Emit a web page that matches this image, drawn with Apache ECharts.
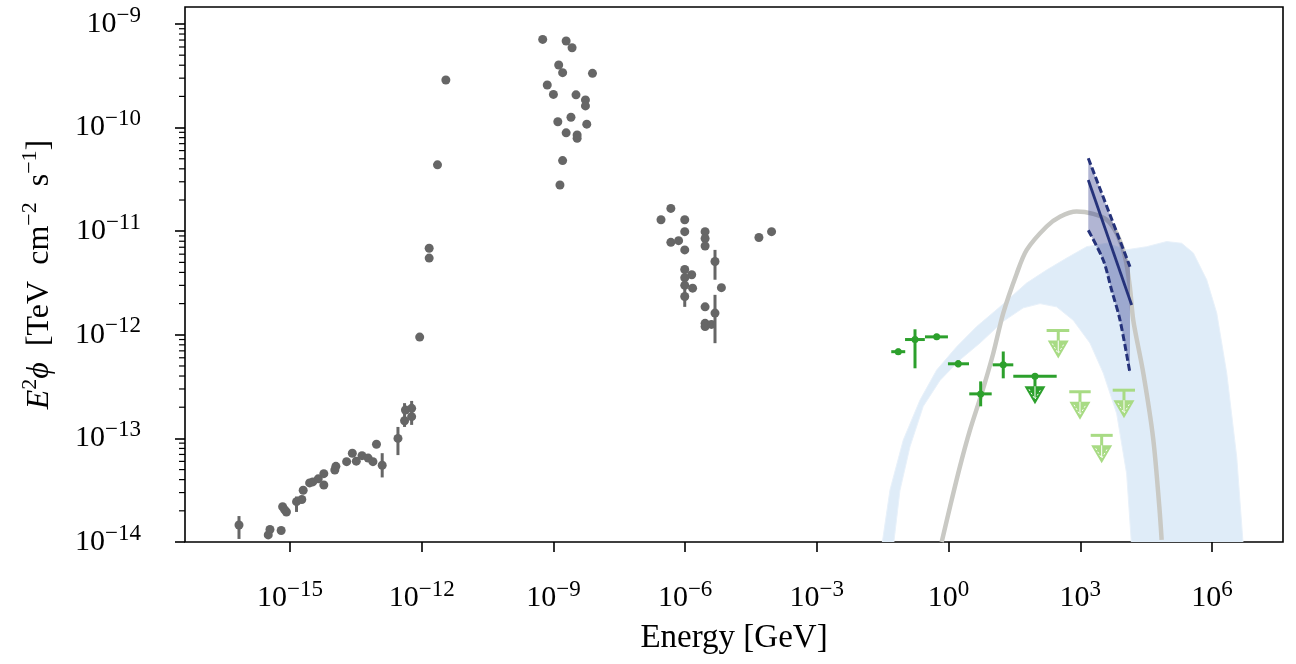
<!DOCTYPE html>
<html><head><meta charset="utf-8">
<script src="https://cdn.jsdelivr.net/npm/echarts@6/dist/echarts.min.js"></script>
<style>html,body{margin:0;padding:0;background:#fff}#c{width:1296px;height:664px}</style>
</head><body><div id="c"></div>
<script>
const L = Math.log10;
// ---------- axis ----------
const xRange = [-17.391, 7.617];          // log10(GeV)
const yRange = [-14, -8.836];             // log10(TeV cm^-2 s^-1)
const xTickExps = [-15, -12, -9, -6, -3, 0, 3, 6];
const yTickExps = [-14, -13, -12, -11, -10, -9];
const minorMult = [2, 3, 4, 5, 6, 7, 8, 9];

// ---------- gray archival points ----------
const grayE = [6.9e-17, 3.2e-16, 3.5e-16, 6.3e-16, 6.8e-16, 8.3e-16, 7.6e-16, 1.41e-15, 1.86e-15, 2.0e-15,
  2.8e-15, 3.3e-15, 4.4e-15, 5.9e-15, 5.9e-15, 1.05e-14, 1.11e-14, 1.95e-14, 2.63e-14, 3.24e-14,
  4.37e-14, 6.03e-14, 7.76e-14, 9.33e-14, 1.26e-13, 2.88e-13, 4.07e-13, 4.27e-13, 5.9e-13, 5.9e-13,
  9.0e-13, 1.48e-12, 1.48e-12, 2.29e-12, 3.55e-12,
  5.7e-10, 1.95e-9, 2.66e-9, 1.32e-9, 1.62e-9, 7.76e-9, 7.24e-10, 1.0e-9, 3.27e-9, 5.37e-9,
  5.37e-9, 1.26e-9, 2.51e-9, 5.75e-9, 1.95e-9, 3.47e-9, 3.47e-9, 1.62e-9, 1.41e-9,
  4.73e-7, 2.82e-7, 9.8e-7, 9.8e-7, 2.85e-6, 2.85e-6, 2.85e-6, 4.73e-7, 7.1e-7, 9.8e-7,
  4.79e-6, 9.8e-7, 1.41e-6, 9.8e-7, 9.8e-7, 1.48e-6, 6.7e-6, 9.8e-7, 2.85e-6, 4.79e-6,
  2.85e-6, 2.85e-6, 3.98e-6, 4.79e-5, 9.3e-5];
const grayF = [1.46e-14, 1.17e-14, 1.32e-14, 1.29e-14, 2.19e-14, 1.95e-14, 2.04e-14, 2.45e-14, 2.57e-14, 3.16e-14,
  3.72e-14, 3.8e-14, 4.07e-14, 4.57e-14, 3.55e-14, 4.95e-14, 5.37e-14, 5.96e-14, 7.18e-14, 6.03e-14,
  6.81e-14, 6.46e-14, 5.96e-14, 8.77e-14, 5.5e-14, 1.0e-13, 1.48e-13, 1.88e-13, 1.95e-13, 1.62e-13,
  9.5e-13, 6.84e-12, 5.5e-12, 4.37e-11, 2.88e-10,
  7.1e-10, 6.85e-10, 5.9e-10, 4.02e-10, 3.39e-10, 3.34e-10, 2.58e-10, 2.09e-10, 2.07e-10, 1.85e-10,
  1.62e-10, 1.14e-10, 1.26e-10, 1.08e-10, 8.9e-11, 8.5e-11, 7.9e-11, 4.8e-11, 2.79e-11,
  1.66e-11, 1.29e-11, 1.29e-11, 9.9e-12, 9.9e-12, 8.5e-12, 7.2e-12, 7.8e-12, 8.1e-12, 6.6e-12,
  5.1e-12, 4.27e-12, 3.8e-12, 3.55e-12, 3.0e-12, 2.82e-12, 2.85e-12, 2.34e-12, 1.86e-12, 1.62e-12,
  1.29e-12, 1.2e-12, 1.26e-12, 8.7e-12, 9.9e-12];
const grayErrE  = [6.9e-17, 3.2e-16, 1.41e-15, 1.26e-13, 2.88e-13, 4.07e-13, 5.9e-13, 4.79e-6, 9.8e-7, 4.79e-6];
const grayErrLo = [1.07e-14, 1.10e-14, 1.95e-14, 4.2e-14, 6.9e-14, 1.29e-13, 1.35e-13, 3.4e-12, 1.86e-12, 8.3e-13];
const grayErrHi = [1.78e-14, 1.26e-14, 2.75e-14, 7.2e-14, 1.29e-13, 2.19e-13, 2.3e-13, 6.6e-12, 4.57e-12, 2.43e-12];

// ---------- green (detections) ----------
const grnE   = [0.0715, 0.172, 0.536, 1.66, 5.38, 17.6];
const grnF   = [6.87e-13, 9.0e-13, 9.55e-13, 5.25e-13, 2.69e-13, 5.13e-13];
const grnElo = [0.0495, 0.102, 0.29, 0.968, 2.96, 10.1];
const grnEhi = [0.103, 0.288, 0.968, 2.92, 9.6, 29.8];
const grnFlo = [6.4e-13, 4.75e-13, 8.9e-13, 4.85e-13, 2.04e-13, 3.8e-13];
const grnFhi = [7.36e-13, 1.13e-12, 1.02e-12, 5.68e-13, 3.55e-13, 6.9e-13];
// green upper limit (dark)
const grnUlE = [92.9], grnUlF = [3.98e-13], grnUlElo = [29.8], grnUlEhi = [290];
// light green upper limits
const ltUlE   = [315, 984, 3069, 9886];
const ltUlF   = [1.1e-12, 2.82e-13, 1.07e-13, 2.92e-13];
const ltUlElo = [171, 561, 1726, 5470];
const ltUlEhi = [561, 1726, 5470, 17620];

// ---------- model curve (gray) ----------
const curveE = [0.697, 1.08, 1.82, 3.07, 5.68, 10.4, 17.6, 35.6, 60.3, 171, 344, 826, 1977, 3981, 6761,
  10470, 13490, 16110, 27230, 45710, 63100, 71290];
const curveF = [1.0e-14, 2.19e-14, 5.37e-14, 1.2e-13, 2.72e-13, 6.6e-13, 1.62e-12, 3.89e-12, 6.6e-12, 1.11e-11,
  1.38e-11, 1.55e-11, 1.47e-11, 1.29e-11, 9.5e-12, 5.6e-12, 2.88e-12, 1.38e-12, 4.27e-13, 1.0e-13, 2.19e-14, 1.05e-14];

// ---------- blue band ----------
const bandUpE = [0.0299, 0.0462, 0.0931, 0.223, 0.536, 1.53, 4.37, 14.8, 60.1, 171, 490, 1396, 3990, 11380,
  32500, 92700, 203700, 375000, 757000, 1.28e6, 2.16e6, 3.65e6, 5.16e6];
const bandUpF = [9e-15, 3.16e-14, 9.66e-14, 2.34e-13, 4.57e-13, 7.67e-13, 1.2e-12, 1.86e-12, 3.16e-12, 4.22e-12,
  5.5e-12, 7.08e-12, 7.64e-12, 6.61e-12, 7.08e-12, 7.94e-12, 7.64e-12, 6.17e-12, 3.39e-12, 1.62e-12,
  4.27e-13, 6.61e-14, 9e-15];
const bandLoE = [0.0551, 0.0782, 0.132, 0.265, 0.637, 1.82, 5.19, 17.6, 50.2, 121, 290, 692, 1663, 3342,
  6745, 11380, 14790];
const bandLoF = [9e-15, 3.16e-14, 8.32e-14, 2.04e-13, 3.63e-13, 5.75e-13, 8.32e-13, 1.35e-12, 1.82e-12, 2.0e-12,
  1.86e-12, 1.38e-12, 8.32e-13, 4.27e-13, 1.74e-13, 4.57e-14, 9e-15];

// ---------- bow tie ----------
const bowUpE = [1521, 13550], bowUpF = [5.06e-11, 4.54e-12];
const bowMidE = [1521, 14790], bowMidF = [3.12e-11, 1.94e-12];
const bowLoE = [1521, 3342, 5188, 8017, 13550];
const bowLoF = [1.02e-11, 5.25e-12, 2.69e-12, 1.39e-12, 4.27e-13];

// ---------- build ----------
const FONT = 'Liberation Serif';
const toXY = (E, F) => E.map((e, i) => [L(e), L(F[i])]);
const sup = v => (v < 0 ? '\u2212' + (-v) : '' + v);
const tickLabel = v => '{b|10}{s|' + sup(Math.round(v)) + '}';
const richTick = {
  b: { fontFamily: FONT, fontSize: 30, lineHeight: 40, color: '#000' },
  s: { fontFamily: FONT, fontSize: 23, lineHeight: 22, verticalAlign: 'top', color: '#000' }
};

const bandPoly = toXY(bandUpE, bandUpF).concat(toXY(bandLoE, bandLoF).reverse());
const bowPoly = toXY(bowUpE, bowUpF).concat(toXY(bowLoE, bowLoF).reverse());

const minorVals = [];
yTickExps.forEach(n => minorMult.forEach(k => { const v = n + L(k); if (v < yRange[1]) minorVals.push([xRange[0], v]); }));

function polyRender(pts, style) {
  return (params, api) => params.dataIndex === 0 ? { type: 'polygon', shape: { points: pts.map(p => api.coord(p)) }, style } : null;
}
function seg(a, b, color, w) {
  return { type: 'line', shape: { x1: a[0], y1: a[1], x2: b[0], y2: b[1] }, style: { stroke: color, lineWidth: w } };
}
// data: [x, y, xlo, xhi, ylo, yhi]
function errRender(color, w, dot) {
  return (params, api) => {
    const x = api.value(0), y = api.value(1);
    const p = api.coord([x, y]);
    const ch = [];
    const xa = api.coord([api.value(2), y]), xb = api.coord([api.value(3), y]);
    if (Math.abs(xb[0] - xa[0]) > 0.5) ch.push(seg(xa, xb, color, w));
    const ya = api.coord([x, api.value(4)]), yb = api.coord([x, api.value(5)]);
    if (Math.abs(yb[1] - ya[1]) > 0.5) ch.push(seg(ya, yb, color, w));
    if (dot) ch.push({ type: 'circle', shape: { cx: p[0], cy: p[1], r: dot }, style: { fill: color } });
    return { type: 'group', children: ch };
  };
}
// data: [x, y, xlo, xhi]
function ulRender(color, w, dot) {
  return (params, api) => {
    const x = api.value(0), y = api.value(1);
    const p = api.coord([x, y]);
    const xa = api.coord([api.value(2), y]), xb = api.coord([api.value(3), y]);
    const ch = [seg(xa, xb, color, w), seg(p, [p[0], p[1] + 12], color, w)];
    const t0 = p[1] + 10, t1 = p[1] + 28, hw = 10.5;
    ch.push({ type: 'polygon', shape: { points: [[p[0] - hw, t0], [p[0] + hw, t0], [p[0], t1]] }, style: { fill: color } });
    ch.push({ type: 'polyline', shape: { points: [[p[0] - 6, t0 + 3], [p[0], t1 - 5], [p[0] + 6, t0 + 3]] },
      style: { stroke: '#fff', lineWidth: 1, lineDash: [2, 2], fill: null } });
    ch.push(seg([p[0], t0], [p[0], t1 - 6], '#fff', 1));
    if (dot) ch.push({ type: 'circle', shape: { cx: p[0], cy: p[1], r: dot }, style: { fill: color } });
    return { type: 'group', children: ch };
  };
}

const GREEN = '#2ca02c', LTGREEN = '#a8db84', NAVY = '#25327a', GRAY = '#666666';

const option = {
  animation: false,
  backgroundColor: '#fff',
  grid: { left: 185, right: 13, top: 7, bottom: 122, show: true, borderColor: '#000', borderWidth: 1.6, backgroundColor: 'transparent' },
  xAxis: {
    type: 'value', min: xRange[0], max: xRange[1],
    splitLine: { show: false },
    axisLine: { show: false, onZero: false },
    axisTick: { show: true, customValues: xTickExps, length: 10, lineStyle: { color: '#000', width: 1.6 } },
    axisLabel: { customValues: xTickExps, margin: 36, formatter: tickLabel, rich: richTick },
    name: 'Energy [GeV]', nameLocation: 'middle', nameGap: 80,
    nameTextStyle: { fontFamily: FONT, fontSize: 33, color: '#000' }
  },
  yAxis: {
    type: 'value', min: yRange[0], max: yRange[1],
    splitLine: { show: false },
    axisLine: { show: false, onZero: false },
    axisTick: { show: true, customValues: yTickExps, length: 10, lineStyle: { color: '#000', width: 1.6 } },
    axisLabel: { customValues: yTickExps, margin: 44, formatter: tickLabel, rich: richTick },
    name: '{i|E}{s|2}{i|\u03D5}\u2002[TeV\u2002cm{s|\u22122}\u2002s{s|\u22121}]',
    nameLocation: 'middle', nameRotate: 90, nameGap: 124,
    nameTextStyle: {
      fontFamily: FONT, fontSize: 32, color: '#000', lineHeight: 42,
      rich: {
        i: { fontFamily: FONT, fontSize: 32, fontStyle: 'italic', lineHeight: 42, color: '#000' },
        s: { fontFamily: FONT, fontSize: 22, lineHeight: 22, verticalAlign: 'top', color: '#000' }
      }
    }
  },
  series: [
    { type: 'custom', name: 'band', z: 1, clip: true, data: [[0, -12]],
      renderItem: polyRender(bandPoly, { fill: '#dfecf8', stroke: '#e8f1fa', lineWidth: 1 }) },
    { type: 'line', name: 'model', z: 2, data: toXY(curveE, curveF), smooth: 0.3, showSymbol: false,
      lineStyle: { color: '#c9c9c4', width: 4.5 } },
    { type: 'custom', name: 'bowfill', z: 3, clip: true, data: [[0, -12]],
      renderItem: polyRender(bowPoly, { fill: 'rgba(50,60,140,0.38)' }) },
    { type: 'line', name: 'bowUp', z: 4, data: toXY(bowUpE, bowUpF), showSymbol: false,
      lineStyle: { color: NAVY, width: 3, type: [7, 3] } },
    { type: 'line', name: 'bowLo', z: 4, data: toXY(bowLoE, bowLoF), showSymbol: false, smooth: 0.3,
      lineStyle: { color: NAVY, width: 3, type: [7, 3] } },
    { type: 'line', name: 'bowMid', z: 4, data: toXY(bowMidE, bowMidF), showSymbol: false,
      lineStyle: { color: NAVY, width: 2.8 } },
    { type: 'custom', name: 'greenErr', z: 5, clip: false,
      data: grnE.map((e, i) => [L(e), L(grnF[i]), L(grnElo[i]), L(grnEhi[i]), L(grnFlo[i]), L(grnFhi[i])]),
      renderItem: errRender(GREEN, 3, 3.5) },
    { type: 'custom', name: 'greenUL', z: 5, clip: false,
      data: grnUlE.map((e, i) => [L(e), L(grnUlF[i]), L(grnUlElo[i]), L(grnUlEhi[i])]),
      renderItem: ulRender(GREEN, 3, 3.5) },
    { type: 'custom', name: 'lightUL', z: 5, clip: false,
      data: ltUlE.map((e, i) => [L(e), L(ltUlF[i]), L(ltUlElo[i]), L(ltUlEhi[i])]),
      renderItem: ulRender(LTGREEN, 3, 0) },
    { type: 'custom', name: 'grayErr', z: 5, clip: true,
      data: grayErrE.map((e, i) => [L(e), L(grayErrLo[i]), L(e), L(e), L(grayErrLo[i]), L(grayErrHi[i])]),
      renderItem: errRender(GRAY, 3, 0) },
    { type: 'scatter', name: 'gray', z: 6, data: toXY(grayE, grayF), symbol: 'circle', symbolSize: 9,
      itemStyle: { color: GRAY, opacity: 1 } },
    { type: 'custom', name: 'minorTicks', z: 7, clip: false, data: minorVals,
      renderItem: (params, api) => {
        const p = api.coord([api.value(0), api.value(1)]);
        return seg([p[0] - 6, p[1]], [p[0], p[1]], '#000', 1.2);
      } }
  ]
};
const chart = echarts.init(document.getElementById('c'), null, { renderer: 'canvas' });
chart.setOption(option);
</script></body></html>
